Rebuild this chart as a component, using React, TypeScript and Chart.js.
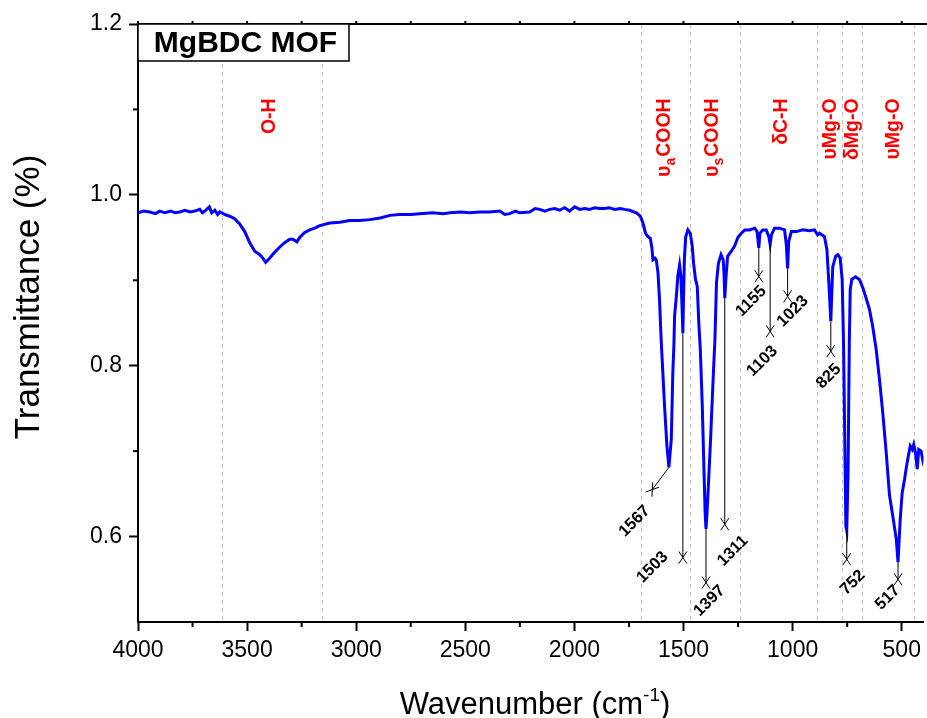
import React, { useEffect, useRef } from 'react';
import { Chart, registerables } from 'chart.js';

Chart.register(...registerables);

const FONT = '"Liberation Sans", Arial, Helvetica, sans-serif';

// ---- Spectrum (wavenumber cm-1, transmittance) ----
const wavenumbers: number[] = [
  4000, 3975, 3946, 3920, 3900, 3877, 3850, 3830, 3809, 3785, 3760, 3740, 3717, 3705, 3694, 3673, 3662, 3648, 3635, 3625,
  3602, 3580, 3557, 3534, 3511, 3488, 3465, 3442, 3428, 3415, 3396, 3373, 3350, 3328, 3305, 3290, 3272, 3259, 3236, 3213,
  3190, 3167, 3121, 3075, 3030, 2985, 2938, 2890, 2846, 2800, 2750, 2709, 2650, 2600, 2571, 2520, 2480, 2434, 2390, 2342,
  2319, 2297, 2270, 2251, 2205, 2180, 2159, 2135, 2113, 2090, 2068, 2045, 2022, 1999, 1975, 1953, 1930, 1907, 1885, 1862,
  1840, 1816, 1790, 1770, 1747, 1716, 1698, 1686, 1674, 1663, 1652, 1645, 1640, 1631, 1625, 1617, 1610, 1602, 1587, 1576,
  1567, 1556, 1549, 1544, 1541, 1533, 1526, 1518, 1512, 1507, 1503, 1500, 1496, 1490, 1480, 1469, 1460, 1454, 1445, 1437,
  1430, 1423, 1414, 1406, 1401, 1397, 1393, 1386, 1376, 1363, 1356, 1349, 1340, 1328, 1318, 1314, 1311, 1306, 1298, 1281,
  1266, 1251, 1235, 1219, 1197, 1174, 1163, 1155, 1150, 1137, 1121, 1109, 1103, 1097, 1083, 1060, 1037, 1029, 1023, 1018,
  1006, 983, 953, 923, 900, 885, 877, 854, 843, 834, 825, 820, 816, 803, 793, 782, 773, 767, 761, 756,
  752, 746, 740, 736, 729, 712, 694, 678, 663, 648, 633, 617, 602, 587, 571, 556, 541, 525, 517, 507,
  498, 487, 480, 470, 461, 452, 445, 437, 429, 422, 411, 404, 400,
];
const transmittance: number[] = [
  0.979, 0.981, 0.980, 0.978, 0.981, 0.979, 0.981, 0.979, 0.980, 0.982, 0.980, 0.981, 0.983, 0.979, 0.981, 0.986, 0.979, 0.982, 0.977, 0.980,
  0.977, 0.975, 0.972, 0.966, 0.957, 0.944, 0.934, 0.930, 0.926, 0.921, 0.926, 0.933, 0.939, 0.944, 0.948, 0.948, 0.945, 0.950, 0.956, 0.959,
  0.961, 0.964, 0.967, 0.968, 0.970, 0.970, 0.971, 0.973, 0.976, 0.977, 0.977, 0.978, 0.979, 0.978, 0.979, 0.980, 0.979, 0.980, 0.980, 0.981,
  0.977, 0.978, 0.981, 0.979, 0.980, 0.984, 0.983, 0.981, 0.983, 0.984, 0.982, 0.985, 0.981, 0.986, 0.983, 0.984, 0.983, 0.985, 0.984, 0.984,
  0.985, 0.983, 0.984, 0.983, 0.982, 0.979, 0.975, 0.967, 0.955, 0.951, 0.949, 0.938, 0.924, 0.926, 0.924, 0.909, 0.877, 0.828, 0.753, 0.706,
  0.681, 0.714, 0.792, 0.825, 0.858, 0.881, 0.905, 0.918, 0.905, 0.870, 0.838, 0.880, 0.925, 0.951, 0.959, 0.955, 0.940, 0.920, 0.901, 0.893,
  0.850, 0.819, 0.753, 0.675, 0.628, 0.609, 0.625, 0.660, 0.714, 0.792, 0.831, 0.897, 0.920, 0.930, 0.924, 0.905, 0.879, 0.901, 0.928, 0.934,
  0.940, 0.950, 0.955, 0.959, 0.959, 0.961, 0.957, 0.938, 0.955, 0.959, 0.959, 0.951, 0.942, 0.953, 0.961, 0.961, 0.959, 0.942, 0.914, 0.945,
  0.957, 0.957, 0.959, 0.958, 0.959, 0.953, 0.955, 0.951, 0.936, 0.897, 0.852, 0.889, 0.916, 0.928, 0.930, 0.926, 0.901, 0.831, 0.714, 0.612,
  0.607, 0.675, 0.831, 0.889, 0.901, 0.904, 0.901, 0.891, 0.879, 0.866, 0.846, 0.819, 0.784, 0.745, 0.698, 0.648, 0.624, 0.597, 0.570, 0.620,
  0.651, 0.667, 0.679, 0.694, 0.706, 0.702, 0.708, 0.698, 0.679, 0.702, 0.700, 0.690, 0.694,
];

// ---- Axes ----
const xTickValues = [4000, 3500, 3000, 2500, 2000, 1500, 1000, 500];
const xMinorTickValues = [3750, 3250, 2750, 2250, 1750, 1250, 750];
const yTickValues = [0.6, 0.8, 1.0, 1.2];
const yMinorTickValues = [0.7, 0.9, 1.1];

// ---- Dashed guide lines (wavenumber) ----
const guideWavenumbers = [3617, 3159, 1694, 1472, 1239, 887, 775, 681, 442];

// ---- Peak annotations ----
const peakNames = ['1567', '1503', '1397', '1311', '1155', '1103', '1023', '825', '752', '517'];
const peakWavenumbers = [1567, 1503, 1397, 1311, 1155, 1103, 1023, 825, 752, 517];
const peakTransmittance = [0.681, 0.838, 0.609, 0.879, 0.938, 0.942, 0.914, 0.852, 0.607, 0.570];
const markerWavenumbers = [1643, 1503, 1397, 1311, 1155, 1103, 1023, 825, 752, 517];
const markerTransmittance = [0.655, 0.5755, 0.5462, 0.6144, 0.9046, 0.8403, 0.8812, 0.817, 0.5735, 0.55];
const peakLabelWavenumbers = [1724, 1642, 1381, 1274, 1190, 1139, 999, 834, 724, 564];
const peakLabelTransmittance = [0.618, 0.564, 0.5247, 0.5832, 0.8754, 0.8053, 0.8637, 0.7877, 0.5462, 0.5287];

// ---- Band assignment labels ----
const bandPrefix = ['O-H', 'υ', 'υ', 'δC-H', 'υMg-O', 'δMg-O', 'υMg-O'];
const bandSub = ['', 'a', 's', '', '', '', ''];
const bandSuffix = ['', 'COOH', 'COOH', '', '', '', ''];
const bandWavenumbers = [3396, 1587, 1367, 1051, 827, 726, 538];
const bandTopValue = 1.113;

const chartTitle = 'MgBDC MOF';
const xTitleMain = 'Wavenumber (cm';
const xTitleSup = '-1';
const xTitleEnd = ')';
const yTitle = 'Transmittance (%)';

const decorPlugin = {
  id: 'decor',
  beforeDatasetsDraw(chart: any) {
    const { ctx, chartArea: a, scales } = chart;
    const x = scales.x;
    ctx.save();
    ctx.strokeStyle = '#c4c4c4';
    ctx.lineWidth = 1;
    ctx.setLineDash([4, 4]);
    guideWavenumbers.forEach((w) => {
      const px = Math.round(x.getPixelForValue(w)) + 0.5;
      ctx.beginPath();
      ctx.moveTo(px, a.top);
      ctx.lineTo(px, a.bottom);
      ctx.stroke();
    });
    ctx.restore();
  },
  afterDatasetsDraw(chart: any) {
    const { ctx, scales } = chart;
    const x = scales.x;
    const y = scales.y;
    ctx.save();
    // peak drop lines + markers + labels
    peakNames.forEach((name, i) => {
      const x0 = x.getPixelForValue(peakWavenumbers[i]);
      const y0 = y.getPixelForValue(peakTransmittance[i]);
      const x1 = x.getPixelForValue(markerWavenumbers[i]);
      const y1 = y.getPixelForValue(markerTransmittance[i]);
      ctx.strokeStyle = '#000';
      ctx.lineWidth = 1;
      ctx.beginPath();
      ctx.moveTo(x0, y0);
      ctx.lineTo(x1, y1);
      ctx.stroke();
      const len = Math.hypot(x1 - x0, y1 - y0) || 1;
      const dx = (x1 - x0) / len;
      const dy = (y1 - y0) / len;
      const nx = -dy;
      const ny = dx;
      const A = 6;
      const B = 4;
      ctx.beginPath();
      ctx.moveTo(x1 - A * dx - B * nx, y1 - A * dy - B * ny);
      ctx.lineTo(x1 + A * dx + B * nx, y1 + A * dy + B * ny);
      ctx.moveTo(x1 - A * dx + B * nx, y1 - A * dy + B * ny);
      ctx.lineTo(x1 + A * dx - B * nx, y1 + A * dy - B * ny);
      ctx.stroke();
      const lx = x.getPixelForValue(peakLabelWavenumbers[i]);
      const ly = y.getPixelForValue(peakLabelTransmittance[i]);
      ctx.save();
      ctx.translate(lx, ly);
      ctx.rotate(-Math.PI / 4);
      ctx.fillStyle = '#000';
      ctx.font = `bold 16.5px ${FONT}`;
      ctx.textAlign = 'center';
      ctx.textBaseline = 'middle';
      ctx.fillText(name, 0, 0);
      ctx.restore();
    });
    // band labels (red, vertical)
    const mainFont = `bold 19.5px ${FONT}`;
    const subFont = `bold 14px ${FONT}`;
    bandPrefix.forEach((pre, i) => {
      const px = x.getPixelForValue(bandWavenumbers[i]);
      const pyTop = y.getPixelForValue(bandTopValue);
      ctx.save();
      ctx.translate(px, pyTop);
      ctx.rotate(-Math.PI / 2);
      ctx.fillStyle = '#ff0000';
      ctx.textBaseline = 'middle';
      ctx.textAlign = 'left';
      ctx.font = mainFont;
      const w1 = ctx.measureText(pre).width;
      const w3 = bandSuffix[i] ? ctx.measureText(bandSuffix[i]).width : 0;
      ctx.font = subFont;
      const w2 = bandSub[i] ? ctx.measureText(bandSub[i]).width + 1 : 0;
      const total = w1 + w2 + w3;
      let cx = -total;
      ctx.font = mainFont;
      ctx.fillText(pre, cx, 0);
      cx += w1;
      if (bandSub[i]) {
        ctx.font = subFont;
        ctx.fillText(bandSub[i], cx, 7);
        cx += w2;
      }
      if (bandSuffix[i]) {
        ctx.font = mainFont;
        ctx.fillText(bandSuffix[i], cx, 0);
      }
      ctx.restore();
    });
    ctx.restore();
  },
  afterDraw(chart: any) {
    const { ctx, chartArea: a, scales, width } = chart;
    const x = scales.x;
    const y = scales.y;
    ctx.save();
    ctx.strokeStyle = '#000';
    // top border
    ctx.lineWidth = 2;
    ctx.beginPath();
    ctx.moveTo(a.left - 1, a.top);
    ctx.lineTo(width, a.top);
    ctx.stroke();
    // top ticks
    ctx.lineWidth = 2;
    [...xTickValues, ...xMinorTickValues].forEach((w) => {
      const px = x.getPixelForValue(w);
      ctx.beginPath();
      ctx.moveTo(px, a.top);
      ctx.lineTo(px, a.top - 3);
      ctx.stroke();
    });
    // minor ticks bottom
    xMinorTickValues.forEach((w) => {
      const px = x.getPixelForValue(w);
      ctx.beginPath();
      ctx.moveTo(px, a.bottom);
      ctx.lineTo(px, a.bottom + 5);
      ctx.stroke();
    });
    // minor ticks left
    yMinorTickValues.forEach((v) => {
      const py = y.getPixelForValue(v);
      ctx.beginPath();
      ctx.moveTo(a.left, py);
      ctx.lineTo(a.left - 5, py);
      ctx.stroke();
    });
    // title box
    const bx = a.left;
    const by = a.top;
    const bw = 211;
    const bh = 37;
    ctx.fillStyle = '#fff';
    ctx.fillRect(bx, by, bw, bh);
    ctx.lineWidth = 1.5;
    ctx.strokeRect(bx, by, bw, bh);
    ctx.fillStyle = '#000';
    ctx.font = `bold 30px ${FONT}`;
    ctx.textAlign = 'center';
    ctx.textBaseline = 'middle';
    ctx.fillText(chartTitle, bx + bw / 2 + 2, by + bh / 2 + 1);
    // x title
    const mainF = `31px ${FONT}`;
    const supF = `19px ${FONT}`;
    ctx.font = mainF;
    const m1 = ctx.measureText(xTitleMain).width;
    const m3 = ctx.measureText(xTitleEnd).width;
    ctx.font = supF;
    const m2 = ctx.measureText(xTitleSup).width;
    const totalW = m1 + m2 + m3;
    const cxT = 535;
    let sx = cxT - totalW / 2;
    const baseY = 714;
    ctx.textAlign = 'left';
    ctx.textBaseline = 'alphabetic';
    ctx.font = mainF;
    ctx.fillText(xTitleMain, sx, baseY);
    sx += m1;
    ctx.font = supF;
    ctx.fillText(xTitleSup, sx, baseY - 13);
    sx += m2;
    ctx.font = mainF;
    ctx.fillText(xTitleEnd, sx, baseY);
    // y title
    ctx.save();
    ctx.translate(39, 297);
    ctx.rotate(-Math.PI / 2);
    ctx.font = `35px ${FONT}`;
    ctx.textAlign = 'center';
    ctx.textBaseline = 'alphabetic';
    ctx.fillText(yTitle, 0, 0);
    ctx.restore();
    ctx.restore();
  },
};

export default function App() {
  const canvasRef = useRef<HTMLCanvasElement | null>(null);

  useEffect(() => {
    const canvas = canvasRef.current;
    if (!canvas) return;
    const points = wavenumbers.map((w, i) => ({ x: w, y: transmittance[i] }));
    const chart = new Chart(canvas, {
      type: 'line',
      data: {
        datasets: [
          {
            data: points,
            borderColor: '#0000ff',
            borderWidth: 3,
            pointRadius: 0,
            fill: false,
            tension: 0,
          },
        ],
      },
      options: {
        responsive: false,
        animation: false,
        events: [],
        layout: { padding: { left: 0, right: 3, top: 24, bottom: 0 } },
        plugins: {
          legend: { display: false },
          tooltip: { enabled: false },
          title: { display: false },
        },
        scales: {
          x: {
            type: 'linear',
            min: 400,
            max: 4000,
            reverse: true,
            afterBuildTicks: (s: any) => {
              s.ticks = xTickValues.map((v) => ({ value: v }));
            },
            afterFit: (s: any) => {
              s.height = 96;
            },
            grid: {
              display: true,
              drawOnChartArea: false,
              drawTicks: true,
              tickLength: 9,
              tickWidth: 2,
              tickColor: '#000',
            },
            border: { display: true, color: '#000', width: 2 },
            ticks: {
              font: { family: FONT, size: 23 },
              color: '#000',
              padding: 6,
              maxRotation: 0,
              autoSkip: false,
              callback: (v: any) => String(v),
            },
          },
          y: {
            type: 'linear',
            min: 0.5,
            max: 1.2,
            afterBuildTicks: (s: any) => {
              s.ticks = yTickValues.map((v) => ({ value: v }));
            },
            afterFit: (s: any) => {
              s.width = 138;
            },
            grid: {
              display: true,
              drawOnChartArea: false,
              drawTicks: true,
              tickLength: 9,
              tickWidth: 2,
              tickColor: '#000',
            },
            border: { display: true, color: '#000', width: 2 },
            ticks: {
              font: { family: FONT, size: 23 },
              color: '#000',
              padding: 7,
              autoSkip: false,
              callback: (v: any) => Number(v).toFixed(1),
            },
          },
        },
      },
      plugins: [decorPlugin],
    });
    return () => chart.destroy();
  }, []);

  return (
    <div style={{ position: 'absolute', left: 0, top: 0, width: 927, height: 718, background: '#fff' }}>
      <canvas ref={canvasRef} width={927} height={718} style={{ display: 'block' }} />
    </div>
  );
}
